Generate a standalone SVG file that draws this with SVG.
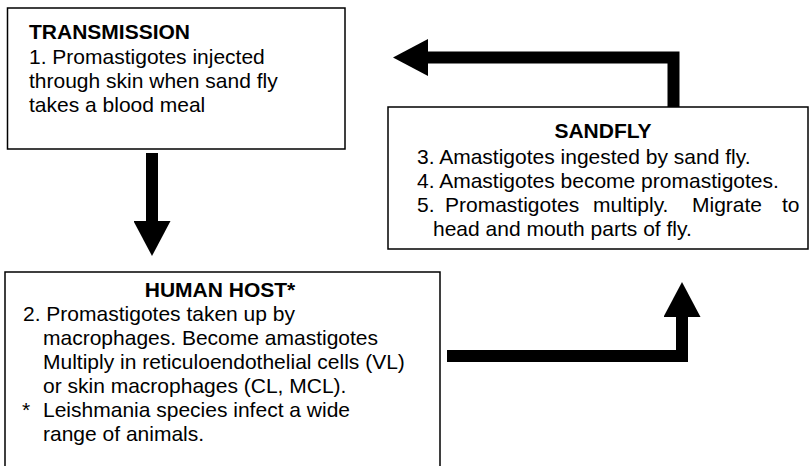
<svg xmlns="http://www.w3.org/2000/svg" width="809" height="466" viewBox="0 0 809 466">
<style>
.box{fill:#fff;stroke:#000;stroke-width:1.5}
.t{font-family:"Liberation Sans",Arial,sans-serif;font-size:21px;fill:#000}
.b{font-weight:bold}
.c{text-anchor:middle}
.conn{fill:none;stroke:#000;stroke-width:12;stroke-linejoin:miter}
</style>
<defs>
<marker id="ah" markerUnits="userSpaceOnUse" markerWidth="36" markerHeight="37" refX="0" refY="18.5" orient="auto" viewBox="0 0 36 37">
<path d="M0,0 L35,18.5 L0,37 z" fill="#000"/>
</marker>
</defs>
<rect width="809" height="466" fill="#fff"/>
<g id="transmission">
<rect class="box" x="7.5" y="8" width="337.5" height="141"/>
<text class="t b" x="29" y="39">TRANSMISSION</text>
<text class="t" x="29" y="63.5">1. Promastigotes injected</text>
<text class="t" x="29" y="88">through skin when sand fly</text>
<text class="t" x="29" y="112">takes a blood meal</text>
</g>
<g id="sandfly">
<rect class="box" x="388" y="107" width="420" height="142"/>
<text class="t b c" x="603" y="138">SANDFLY</text>
<text class="t" x="417" y="164">3. Amastigotes ingested by sand fly.</text>
<text class="t" x="417" y="188">4. Amastigotes become promastigotes.</text>
<text class="t" y="212"><tspan x="417">5.</tspan><tspan x="445">Promastigotes</tspan><tspan x="593">multiply.</tspan><tspan x="692">Migrate</tspan><tspan x="782">to</tspan></text>
<text class="t" x="433" y="236">head and mouth parts of fly.</text>
</g>
<g id="human-host">
<path class="box" d="M5,480 L5,272 L440,272 L440,480"/>
<text class="t b c" x="220" y="297">HUMAN HOST*</text>
<text class="t" x="23" y="321">2. Promastigotes taken up by</text>
<text class="t" x="43" y="345">macrophages. Become amastigotes</text>
<text class="t" x="43" y="369">Multiply in reticuloendothelial cells (VL)</text>
<text class="t" x="43" y="393">or skin macrophages (CL, MCL).</text>
<text class="t" x="22" y="417">*</text>
<text class="t" x="43" y="417">Leishmania species infect a wide</text>
<text class="t" x="43" y="441">range of animals.</text>
</g>
<g id="connectors">
<path class="conn" d="M673.5,107 L673.5,57.5 L428,57.5" marker-end="url(#ah)"/>
<path class="conn" d="M152,153 L152,221" marker-end="url(#ah)"/>
<path class="conn" d="M447,356 L682,356 L682,317" marker-end="url(#ah)"/>
</g>
</svg>
